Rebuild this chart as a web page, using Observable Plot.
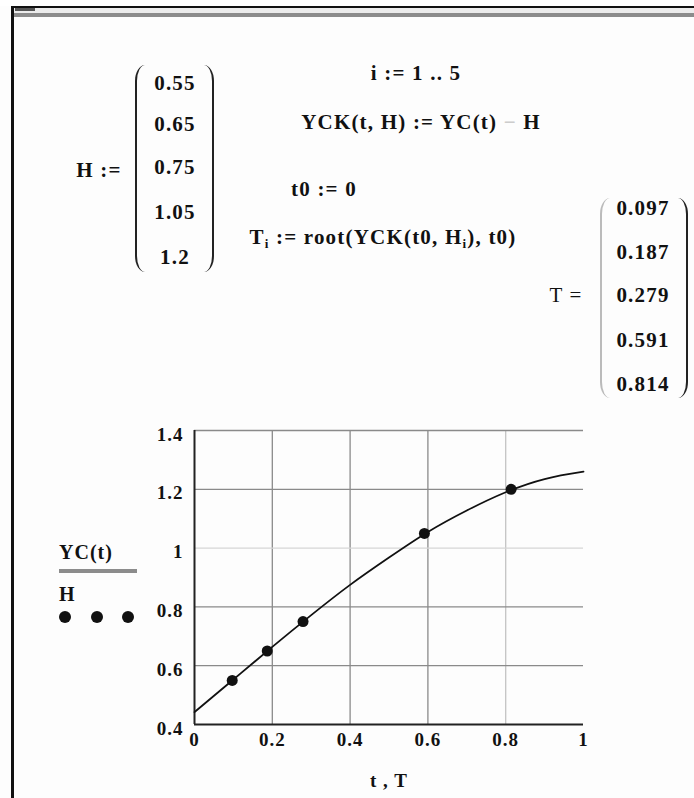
<!DOCTYPE html>
<html>
<head>
<meta charset="utf-8">
<script src="https://cdn.jsdelivr.net/npm/d3@7"></script>
<script src="https://cdn.jsdelivr.net/npm/@observablehq/plot@0.6"></script>
<style>
  html, body { margin: 0; padding: 0; background: #fff; }
  #page { position: relative; width: 694px; height: 798px; overflow: hidden; background: #fdfdfd;
          font-family: "Liberation Serif", "Times New Roman", serif; font-weight: bold; color: #111; }
  #page svg { position: absolute; left: 0; top: 0; }
  #page svg text { letter-spacing: 1px; }
  .t { position: absolute; white-space: nowrap; transform: translate(-50%, -50%); font-size: 21px; letter-spacing: 1.2px; line-height: 1; }
  .tl { position: absolute; white-space: nowrap; transform: translate(0, -50%); font-size: 20px; letter-spacing: 1px; line-height: 1; }
  .lb { position: absolute; border-left: 2px solid #222; border-radius: 10px 0 0 10px / 16px 0 0 16px; width: 8px; }
  .rb { position: absolute; border-right: 2px solid #222; border-radius: 0 10px 10px 0 / 0 16px 16px 0; width: 8px; }
  sub { font-size: 13px; vertical-align: -4px; }
</style>
</head>
<body>
<div id="page"></div>
<script>
// ---- data ----
const H = [0.55, 0.65, 0.75, 1.05, 1.2];
const T = [0.097, 0.187, 0.279, 0.591, 0.814];
const curveT  = [0, 0.1, 0.2, 0.3, 0.4, 0.5, 0.6, 0.7, 0.8, 0.9, 1.0];
const curveYC = [0.442, 0.553, 0.664, 0.772, 0.875, 0.968, 1.055, 1.128, 1.19, 1.235, 1.26];
const xTicks = [0, 0.2, 0.4, 0.6, 0.8, 1];
const yTicks = [0.4, 0.6, 0.8, 1, 1.2, 1.4];
const xGridDark = [0.2, 0.4, 0.6];
const xGridLight = [0.8];
const yGridDark = [0.6, 0.8, 1.2, 1.4];
const yGridLight = [1];

const points = T.map((t, i) => ({t, h: H[i]}));
const curve = curveT.map((t, i) => ({t, yc: curveYC[i]}));

const page = document.getElementById("page");
const fmt = d => String(d);

const chart = Plot.plot({
  width: 694,
  height: 798,
  marginLeft: 194,
  marginRight: 111,
  marginTop: 430,
  marginBottom: 74,
  style: {fontFamily: "'Liberation Serif', 'Times New Roman', serif", fontSize: "19px", fontWeight: "bold", background: "transparent", color: "#111"},
  x: {domain: [0, 1]},
  y: {domain: [0.4, 1.4]},
  marks: [
    Plot.gridX(xGridDark, {stroke: "#8a8a8a", strokeOpacity: 1, strokeWidth: 1.3}),
    Plot.gridX(xGridLight, {stroke: "#c4c4c4", strokeOpacity: 1, strokeWidth: 1.3}),
    Plot.gridY(yGridDark, {stroke: "#8a8a8a", strokeOpacity: 1, strokeWidth: 1.3}),
    Plot.gridY(yGridLight, {stroke: "#d6d6d6", strokeOpacity: 1, strokeWidth: 1.3}),
    Plot.axisX(xTicks, {tickSize: 0, tickPadding: 8, tickFormat: fmt, label: "t , T", labelAnchor: "center", labelArrow: "none", labelOffset: 62, fill: "#111"}),
    Plot.axisY(yTicks, {tickSize: 0, tickPadding: 11, tickFormat: fmt, label: null, dy: 4, fill: "#111"}),
    Plot.ruleX([0], {stroke: "#222", strokeWidth: 2}),
    Plot.ruleY([0.4], {stroke: "#222", strokeWidth: 2.2}),
    Plot.line(curve, {x: "t", y: "yc", stroke: "#111", strokeWidth: 1.8, curve: "natural"}),
    Plot.dot(points, {x: "t", y: "h", r: 5.5, fill: "#111", stroke: "none"})
  ]
});
page.appendChild(chart);

function add(cls, x, y, html, extra) {
  const d = document.createElement("div");
  d.className = cls;
  d.style.left = x + "px";
  d.style.top = y + "px";
  d.innerHTML = html;
  if (extra) Object.assign(d.style, extra);
  page.appendChild(d);
  return d;
}
function box(x, y, w, h, bg) {
  const d = document.createElement("div");
  Object.assign(d.style, {position: "absolute", left: x + "px", top: y + "px", width: w + "px", height: h + "px", background: bg});
  page.appendChild(d);
}

// window frame
box(0, 0, 694, 6, "#ffffff");
box(11, 6, 683, 2, "#111");
box(11, 8, 683, 6, "#ececec");
box(11, 13, 683, 4, "#8c8c8c");
box(15, 8, 20, 3, "#555");
box(11, 6, 2.5, 792, "#111");

// H matrix
add("t", 99, 170, "H :=");
const hY = [83, 124, 167, 212, 257];
H.forEach((v, i) => add("t", 175, hY[i], String(v)));
add("lb", 135, 65, "", {height: "207px"});
add("rb", 204, 65, "", {height: "207px"});

// formulas
add("t", 416, 73, "i := 1 .. 5");
add("t", 421, 122, "YCK(t, H) := YC(t) <span style='color:#ccc'>−</span> H");
add("t", 324, 189, "t0 := 0");
add("t", 383, 238, "T<sub>i</sub> := root(YCK(t0, H<sub>i</sub>), t0)");

// T matrix
add("t", 566, 295, "<span style='font-weight:normal'>T =</span>");
const tY = [208, 252, 295, 340, 384];
T.forEach((v, i) => add("t", 643, tY[i], String(v)));
add("lb", 600, 198, "", {height: "200px", borderLeftColor: "#bbb"});
add("rb", 678, 198, "", {height: "200px"});

// legend
add("tl", 59, 552, "YC(t)");
box(59, 569, 78, 3.5, "#8c8c8c");
add("tl", 59, 594, "H");
[65, 97, 128].forEach(x => {
  const d = document.createElement("div");
  Object.assign(d.style, {position: "absolute", left: (x - 6) + "px", top: (617 - 6) + "px", width: "12px", height: "12px", borderRadius: "50%", background: "#111"});
  page.appendChild(d);
});
</script>
</body>
</html>
